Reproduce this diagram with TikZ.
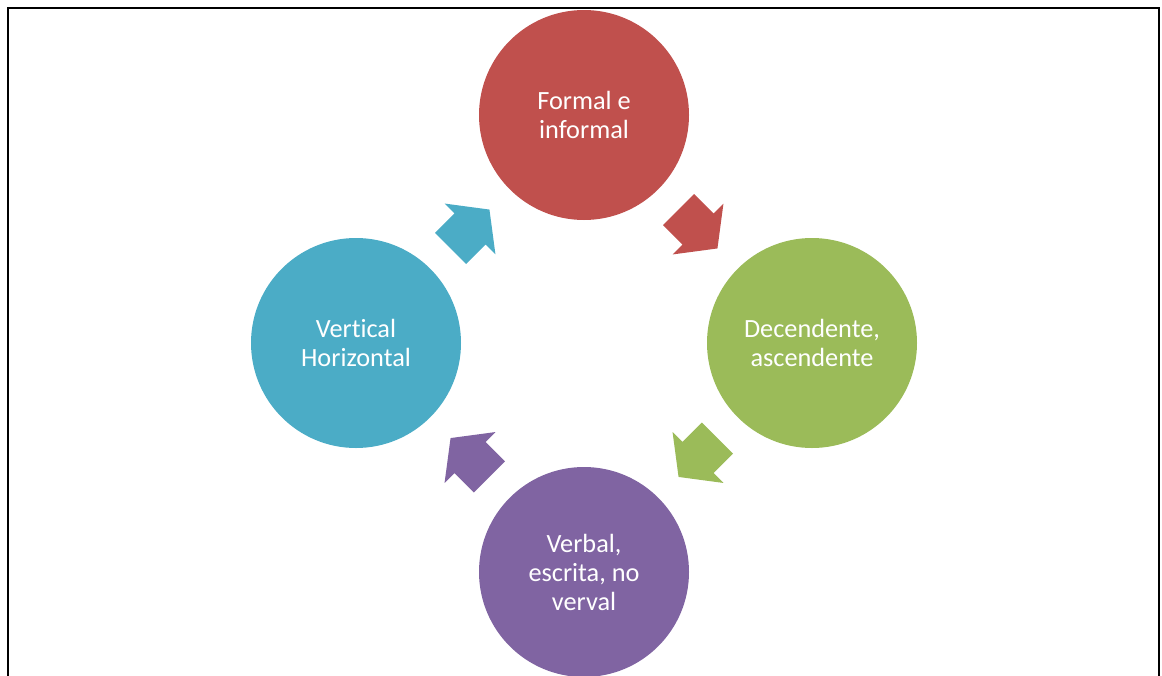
\documentclass[tikz,border=0pt]{standalone}
\usepackage{fontspec}
\setmainfont{Carlito}[Ligatures=NoCommon]
\usetikzlibrary{calc}
\definecolor{cred}{HTML}{C0504D}
\definecolor{cgreen}{HTML}{9BBB59}
\definecolor{cpurple}{HTML}{8064A2}
\definecolor{cblue}{HTML}{4BACC6}
\begin{document}
\begin{tikzpicture}[x=1pt,y=-1pt,
  bubble/.style={circle,minimum size=210pt,inner sep=0pt,text=white,align=center,
    font=\fontsize{26.3}{29}\selectfont},
  blockarrow/.pic={\fill[pic actions] (-27.5,-22) -- (0,-22) -- (0,-36) -- (27.5,0) -- (0,36) -- (0,22) -- (-27.5,22) -- cycle;}]
\useasboundingbox (0,0) rectangle (1162,675);
\clip (0,0) rectangle (1162,675);
\draw[line width=2pt] (8,680) -- (8,8) -- (1159,8) -- (1159,680);
\node[bubble,fill=cred] (top) at (584,115) {Formal e\\informal};
\node[bubble,fill=cgreen] (right) at (812,343) {Decendente,\\ascendente};
\node[bubble,fill=cpurple] (bottom) at (584,572) {Verbal,\\escrita, no\\verval};
\node[bubble,fill=cblue] (left) at (356,343) {Vertical\\Horizontal};
\coordinate (a1) at ($(left)!0.5!(top)$);
\coordinate (a2) at ($(top)!0.5!(right)$);
\coordinate (a3) at ($(right)!0.5!(bottom)$);
\coordinate (a4) at ($(bottom)!0.5!(left)$);
\pic[fill=cblue,rotate=45] at (a1) {blockarrow};
\pic[fill=cred,rotate=-45] at (a2) {blockarrow};
\pic[fill=cgreen,rotate=-135] at (a3) {blockarrow};
\pic[fill=cpurple,rotate=135] at (a4) {blockarrow};
\end{tikzpicture}
\end{document}
